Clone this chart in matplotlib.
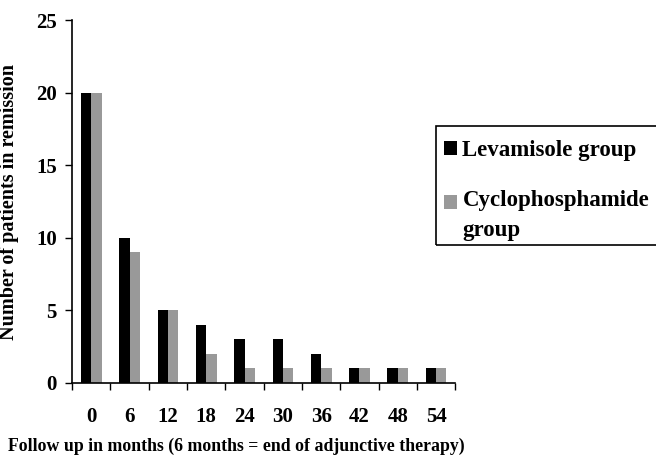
import matplotlib.pyplot as plt
from matplotlib.patches import Rectangle
import numpy as np

months = ['0', '6', '12', '18', '24', '30', '36', '42', '48', '54']
levamisole = [20, 10, 5, 4, 3, 3, 2, 1, 1, 1]
cyclophosphamide = [20, 9, 5, 2, 1, 1, 1, 1, 1, 1]

plt.rcParams['font.family'] = 'Liberation Serif'
plt.rcParams['font.weight'] = 'bold'

fig = plt.figure(figsize=(6.56, 4.57), dpi=100)
ax = fig.add_axes([0.110, 0.162, 0.584, 0.794])

x = np.arange(len(months))
w = 0.27
ax.bar(x - w/2, levamisole, w, color='#000000', label='Levamisole group')
ax.bar(x + w/2, cyclophosphamide, w, color='#999999', label='Cyclophosphamide\ngroup')

ax.set_xlim(-0.5, len(months) - 0.5)
ax.set_ylim(0, 25)
ax.set_yticks([0, 5, 10, 15, 20, 25])
ax.set_xticks(x)
ax.set_xticklabels(months)
ax.set_xticks(np.arange(-0.5, len(months)), minor=True)
ax.tick_params(axis='x', which='major', length=0, pad=17, labelsize=15)
ax.tick_params(axis='x', which='minor', length=5, width=1, direction='out')
ax.tick_params(axis='y', length=5, width=1, direction='out', labelsize=15, pad=6)
for lab in ax.get_xticklabels() + ax.get_yticklabels():
    lab.set_fontweight('bold')

ax.spines['top'].set_visible(False)
ax.spines['right'].set_visible(False)
ax.spines['left'].set_linewidth(1.2)
ax.spines['bottom'].set_linewidth(1.2)

ax.set_ylabel('Number of patients in remission', fontsize=14.5, fontweight='bold')
ax.yaxis.set_label_coords(-0.14, 0.5)
fig.text(0.012, 0.004, 'Follow up in months (6 months = end of adjunctive therapy)',
         fontsize=12.8, fontweight='bold', ha='left', va='bottom')

# legend frame runs off the right edge in the original
fig.patches.append(Rectangle((0.665, 0.464), 0.4, 0.260, transform=fig.transFigure,
                             fill=False, edgecolor='black', linewidth=1.2))
leg = fig.legend(loc='upper left', bbox_to_anchor=(0.656, 0.724), frameon=False,
                 fontsize=16.5, handlelength=0.55, handleheight=0.55, handletextpad=0.25,
                 labelspacing=1.28, borderpad=0.6, borderaxespad=0)
for t in leg.get_texts():
    t.set_fontweight('bold')
    t.set_linespacing(1.55)
# gray square sits next to the first line of its label
h = leg.legend_handles[1]
h.set_y(h.get_y() + 10)

fig.savefig('out.png', dpi=100)
